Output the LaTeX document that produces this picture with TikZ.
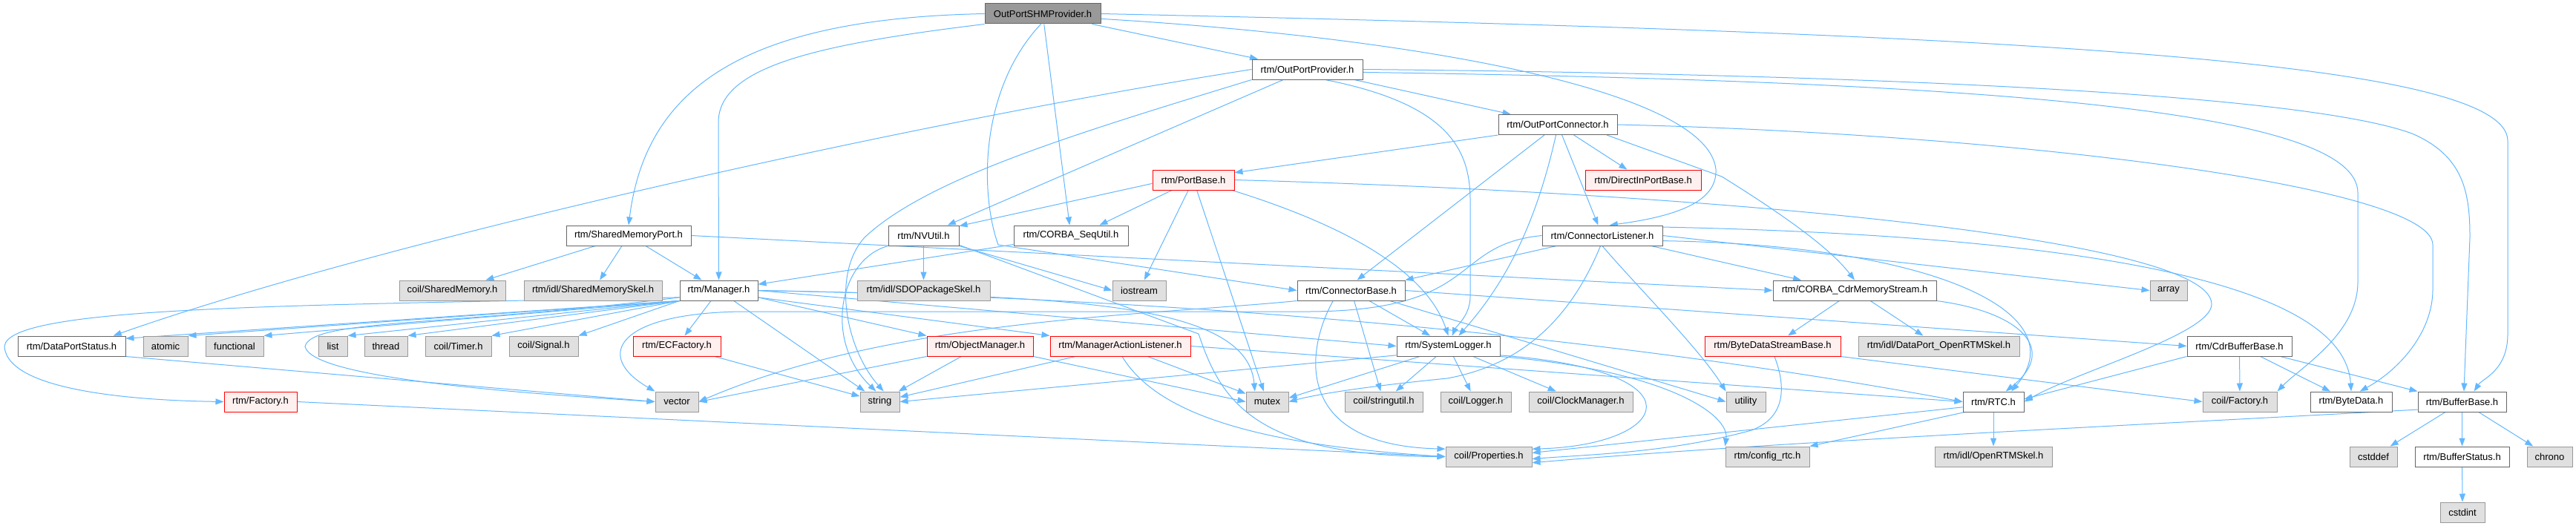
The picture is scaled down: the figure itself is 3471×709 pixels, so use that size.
\documentclass[tikz,border=0pt]{standalone}
\usepackage{fontspec}
\setmainfont{Liberation Sans}
\usetikzlibrary{arrows.meta,backgrounds}
\definecolor{edgeblue}{HTML}{63B8FF}
\definecolor{extfill}{HTML}{E0E0E0}
\definecolor{extline}{HTML}{999999}
\definecolor{boxline}{HTML}{666666}
\definecolor{mainfill}{HTML}{999999}
\definecolor{redfill}{HTML}{FFF0F0}
\definecolor{redline}{HTML}{FF0000}
\begin{document}
\begin{tikzpicture}[x=1pt,y=-1pt,
  base/.style={rectangle, minimum height=27pt, inner sep=0pt, line width=1pt, font=\fontsize{13}{15}\selectfont},
  filebox/.style={base, draw=boxline, fill=white},
  mainbox/.style={base, draw=boxline, fill=mainfill},
  extbox/.style={base, draw=extline, fill=extfill},
  redbox/.style={base, draw=redline, fill=redfill},
  conn/.style={draw=edgeblue, line width=1pt, -{Triangle[length=11pt,width=8pt]}}
]
\useasboundingbox (0,0) rectangle (3471,709);
% row 0-4
\node[mainbox, minimum width=156pt] (n0) at (1405,18.5) {OutPortSHMProvider.h};
\node[filebox, minimum width=149pt] (opp) at (1761.5,93.5) {rtm/OutPortProvider.h};
\node[filebox, minimum width=160pt] (opc) at (2099,168) {rtm/OutPortConnector.h};
\node[redbox, minimum width=110pt] (pb) at (1608,242.5) {rtm/PortBase.h};
\node[redbox, minimum width=156pt] (dipb) at (2214,242.5) {rtm/DirectInPortBase.h};
\node[filebox, minimum width=168pt] (smp) at (847,317.5) {rtm/SharedMemoryPort.h};
\node[filebox, minimum width=95pt] (nvu) at (1244.5,317.5) {rtm/NVUtil.h};
\node[filebox, minimum width=154pt] (csu) at (1443,317.5) {rtm/CORBA\_SeqUtil.h};
\node[filebox, minimum width=162pt] (cl) at (2159,317.5) {rtm/ConnectorListener.h};
% row 5
\node[extbox, minimum width=143pt] (csm) at (609.5,391.5) {coil/SharedMemory.h};
\node[extbox, minimum width=186pt] (sms) at (799,391.5) {rtm/idl/SharedMemorySkel.h};
\node[filebox, minimum width=105pt] (mgr) at (968.5,391.5) {rtm/Manager.h};
\node[extbox, minimum width=179pt] (sdo) at (1244.5,391.5) {rtm/idl/SDOPackageSkel.h};
\node[extbox, minimum width=72pt] (ios) at (1535,391.5) {iostream};
\node[filebox, minimum width=145pt] (cb) at (1820.5,391.5) {rtm/ConnectorBase.h};
\node[filebox, minimum width=220pt] (cdr) at (2499,391.5) {rtm/CORBA\_CdrMemoryStream.h};
\node[extbox, minimum width=50pt] (arr) at (2922,391.5) {array};
% row 6
\node[filebox, minimum width=145pt] (dps) at (96.5,466.5) {rtm/DataPortStatus.h};
\node[extbox, minimum width=60pt] (atm) at (223,466.5) {atomic};
\node[extbox, minimum width=78pt] (fun) at (316,466.5) {functional};
\node[extbox, minimum width=39pt] (lst) at (448.5,466.5) {list};
\node[extbox, minimum width=58pt] (thr) at (520,466.5) {thread};
\node[extbox, minimum width=89pt] (tmr) at (617.5,466.5) {coil/Timer.h};
\node[extbox, minimum width=93pt] (sig) at (732.5,466.5) {coil/Signal.h};
\node[redbox, minimum width=118pt] (ecf) at (912,466.5) {rtm/ECFactory.h};
\node[redbox, minimum width=143pt] (om) at (1320.5,466.5) {rtm/ObjectManager.h};
\node[redbox, minimum width=189pt] (mal) at (1509.5,466.5) {rtm/ManagerActionListener.h};
\node[filebox, minimum width=139pt] (sl) at (1951.5,466.5) {rtm/SystemLogger.h};
\node[redbox, minimum width=183pt] (bdsb) at (2388.5,466.5) {rtm/ByteDataStreamBase.h};
\node[extbox, minimum width=217pt] (dpo) at (2612.5,466.5) {rtm/idl/DataPort\_OpenRTMSkel.h};
\node[filebox, minimum width=141pt] (cbb) at (3017.5,466.5) {rtm/CdrBufferBase.h};
% row 7
\node[redbox, minimum width=98pt] (fac) at (351,541.5) {rtm/Factory.h};
\node[extbox, minimum width=58pt] (vec) at (912,541.5) {vector};
\node[extbox, minimum width=53pt] (str) at (1185.5,541.5) {string};
\node[extbox, minimum width=57pt] (mtx) at (1707.5,541.5) {mutex};
\node[extbox, minimum width=105pt] (su) at (1864.5,541.5) {coil/stringutil.h};
\node[extbox, minimum width=95pt] (log) at (1988.5,541.5) {coil/Logger.h};
\node[extbox, minimum width=140pt] (clk) at (2130,541.5) {coil/ClockManager.h};
\node[extbox, minimum width=53pt] (utl) at (2352.5,541.5) {utility};
\node[filebox, minimum width=82pt] (rtc) at (2686,541.5) {rtm/RTC.h};
\node[extbox, minimum width=100pt] (cfac) at (3018,541.5) {coil/Factory.h};
\node[filebox, minimum width=110pt] (bd) at (3168,541.5) {rtm/ByteData.h};
\node[filebox, minimum width=119pt] (bb) at (3317.5,541.5) {rtm/BufferBase.h};
% row 8-9
\node[extbox, minimum width=116pt] (prop) at (2006,615.5) {coil/Properties.h};
\node[extbox, minimum width=113pt] (cfg) at (2381.5,615.5) {rtm/config\_rtc.h};
\node[extbox, minimum width=158pt] (ortm) at (2686,615.5) {rtm/idl/OpenRTMSkel.h};
\node[extbox, minimum width=64pt] (cdf) at (3198,615.5) {cstddef};
\node[filebox, minimum width=127pt] (bs) at (3317.5,615.5) {rtm/BufferStatus.h};
\node[extbox, minimum width=61pt] (chr) at (3435.5,615.5) {chrono};
\node[extbox, minimum width=60pt] (cin) at (3318,690.5) {cstdint};

\begin{scope}[on background layer]
\fill[white] (0,0) rectangle (3471,709);
% OutPortSHMProvider
\draw[conn] (n0) -- (opp);
\draw[conn] (n0.west) .. controls (1000,25) and (870,120) .. (smp.north);
\draw[conn] (n0.south west) .. controls (1100,60) and (968,90) .. (968,165) -- (mgr.north);
\draw[conn] (n0) -- (csu);
\draw[conn] (n0.260) .. controls (1320,120) and (1320,260) .. (1345,330) -- (cb.west);
\draw[conn] (n0.-5) .. controls (1900,50) and (2300,120) .. (2312,228) .. controls (2314,268) and (2270,290) .. (cl.55);
\draw[conn] (n0.east) .. controls (2700,45) and (3379,80) .. (3379,190) -- (3379,450) .. controls (3379,500) and (3345,510) .. (bb.41);
% OutPortProvider
\draw[conn] (opp.west) .. controls (1200,170) and (500,330) .. (dps.14);
\draw[conn] (opp) -- (nvu);
\draw[conn] (opp.south west) .. controls (1450,180) and (1250,240) .. (1165,320) .. controls (1120,370) and (1140,470) .. (str.70);
\draw[conn] (opp) -- (opc);
\draw[conn] (opp.-30) .. controls (1950,140) and (1981,200) .. (1981,270) -- (1981,400) .. controls (1981,425) and (1962,440) .. (sl.70);
\draw[conn] (opp.east) .. controls (2500,100) and (3100,125) .. (3250,180) .. controls (3320,210) and (3328,260) .. (3328,320) -- (bb.80);
\draw[conn] (opp.-3) .. controls (2700,110) and (3177,150) .. (3177,260) -- (3177,380) .. controls (3177,450) and (3100,495) .. (cfac.north east);
% OutPortConnector
\draw[conn] (opc.south west) -- (pb.10);
\draw[conn] (opc) -- (dipb);
\draw[conn] (opc) -- (cl);
\draw[conn] (opc) -- (cb.60);
\draw[conn] (opc.260) .. controls (2070,300) and (2030,380) .. (sl.45);
\draw[conn] (opc.-12) -- (2320,238) .. controls (2420,300) and (2470,340) .. (cdr.north);
\draw[conn] (opc.east) .. controls (2700,180) and (3278,250) .. (3278,330) -- (3278,390) .. controls (3278,450) and (3230,500) .. (bd.50);
% PortBase
\draw[conn] (pb.185) -- (nvu.15);
\draw[conn] (pb) -- (csu.20);
\draw[conn] (pb) -- (ios);
\draw[conn] (pb) -- (mtx);
\draw[conn] (pb.-15) .. controls (1800,300) and (1920,360) .. (sl.north);
\draw[conn] (pb.east) .. controls (2300,260) and (2980,320) .. (2980,410) .. controls (2980,450) and (2800,500) .. (rtc.east);
% SharedMemoryPort
\draw[conn] (smp) -- (csm);
\draw[conn] (smp) -- (sms);
\draw[conn] (smp) -- (mgr);
\draw[conn] (smp.east) -- (cdr.west);
% NVUtil
\draw[conn] (nvu) -- (sdo);
\draw[conn] (nvu.south west) .. controls (1130,350) and (1110,460) .. (str.110);
\draw[conn] (nvu.south east) -- (ios.west);
\draw[conn] (nvu.-15) .. controls (1400,370) and (1560,430) .. (1615,450) .. controls (1645,540) and (1690,615) .. (prop.west);
% CORBA_SeqUtil
\draw[conn] (csu) -- (mgr);
% ConnectorListener
\draw[conn] (cl) -- (cb.north east);
\draw[conn] (cl.south) .. controls (2200,380) and (2290,470) .. (utl.north west);
\draw[conn] (cl.-12) -- (cdr.169);
\draw[conn] (cl.-5) .. controls (2600,330) and (2800,420) .. (rtc.30);
\draw[conn] (cl.east) -- (arr.west);
\draw[conn] (cl.8) .. controls (2900,320) and (3160,400) .. (bd.north);
\draw[conn] (cl.260) .. controls (2120,420) and (2060,490) .. (1950,510) .. controls (1850,520) and (1780,530) .. (mtx.east);
\draw[conn] (cl.west) .. controls (1950,330) and (2000,422) .. (1750,420) -- (1000,420) .. controls (830,422) and (800,480) .. (vec.north west);
% Manager
\draw[conn] (mgr.south west) -- (atm.north east);
\draw[conn] (mgr.south west) -- (fun.north east);
\draw[conn] (mgr.south west) -- (lst.north east);
\draw[conn] (mgr.south west) -- (thr.north east);
\draw[conn] (mgr.south west) -- (tmr.north east);
\draw[conn] (mgr.south west) -- (sig.north east);
\draw[conn] (mgr.south west) -- (dps.8);
\draw[conn] (mgr.190) .. controls (400,412) and (10,412) .. (6,467) .. controls (10,530) and (200,540) .. (fac.west);
\draw[conn] (mgr.190) .. controls (600,440) and (420,430) .. (411,467) .. controls (420,510) and (700,530) .. (vec.west);
\draw[conn] (mgr) -- (ecf);
\draw[conn] (mgr.-10) -- (om.north west);
\draw[conn] (mgr.-10) -- (mal.north west);
\draw[conn] (mgr.east) -- (sl.west);
\draw[conn] (mgr) -- (str);
\draw[conn] (mgr.east) .. controls (1400,400) and (1680,400) .. (mtx.140);
\draw[conn] (mgr.east) .. controls (1500,400) and (2100,440) .. (rtc.west);
% ConnectorBase
\draw[conn] (cb.210) .. controls (1760,470) and (1740,600) .. (prop.170);
\draw[conn] (cb) -- (su);
\draw[conn] (cb) -- (sl);
\draw[conn] (cb.-15) -- (utl.west);
\draw[conn] (cb.east) -- (cbb.west);
\draw[conn] (cb.south west) .. controls (1550,425) and (1200,430) .. (vec.east);
% SystemLogger
\draw[conn] (sl) -- (clk);
\draw[conn] (sl) -- (log);
\draw[conn] (sl) -- (su);
\draw[conn] (sl.-10) .. controls (2300,500) and (2250,600) .. (prop.10);
\draw[conn] (sl.south east) .. controls (2250,500) and (2330,560) .. (cfg.north west);
\draw[conn] (sl.200) -- (mtx.10);
\draw[conn] (sl.190) -- (str.east);
% ObjectManager, ManagerActionListener, ECFactory
\draw[conn] (om.south west) -- (vec.east);
\draw[conn] (om) -- (str);
\draw[conn] (om.south east) -- (mtx.west);
\draw[conn] (mal) -- (str);
\draw[conn] (mal.-80) .. controls (1560,560) and (1700,600) .. (prop.west);
\draw[conn] (mal) -- (mtx);
\draw[conn] (mal.east) -- (rtc.west);
\draw[conn] (ecf) -- (str);
\draw[conn] (dps.south east) -- (vec.west);
\draw[conn] (fac.east) -- (prop.west);
% CORBA_CdrMemoryStream, ByteDataStreamBase
\draw[conn] (cdr) -- (bdsb);
\draw[conn] (cdr) -- (dpo);
\draw[conn] (cdr.south east) .. controls (2720,420) and (2775,470) .. (rtc.40);
\draw[conn] (bdsb.-80) .. controls (2410,530) and (2400,565) .. (2360,580) .. controls (2250,610) and (2150,612) .. (prop.-3);
\draw[conn] (bdsb.south east) -- (cfac.west);
% CdrBufferBase
\draw[conn] (cbb) -- (cfac);
\draw[conn] (cbb) -- (bd);
\draw[conn] (cbb) -- (bb.north west);
\draw[conn] (cbb.south west) -- (rtc.5);
% RTC
\draw[conn] (rtc.190) -- (prop.5);
\draw[conn] (rtc.200) -- (cfg.north east);
\draw[conn] (rtc) -- (ortm);
% BufferBase
\draw[conn] (bb) -- (cdf);
\draw[conn] (bb) -- (bs);
\draw[conn] (bb) -- (chr);
\draw[conn] (bb.190) .. controls (2900,572) and (2400,595) .. (prop.-8);
\draw[conn] (bs) -- (cin);
\end{scope}
\end{tikzpicture}
\end{document}
